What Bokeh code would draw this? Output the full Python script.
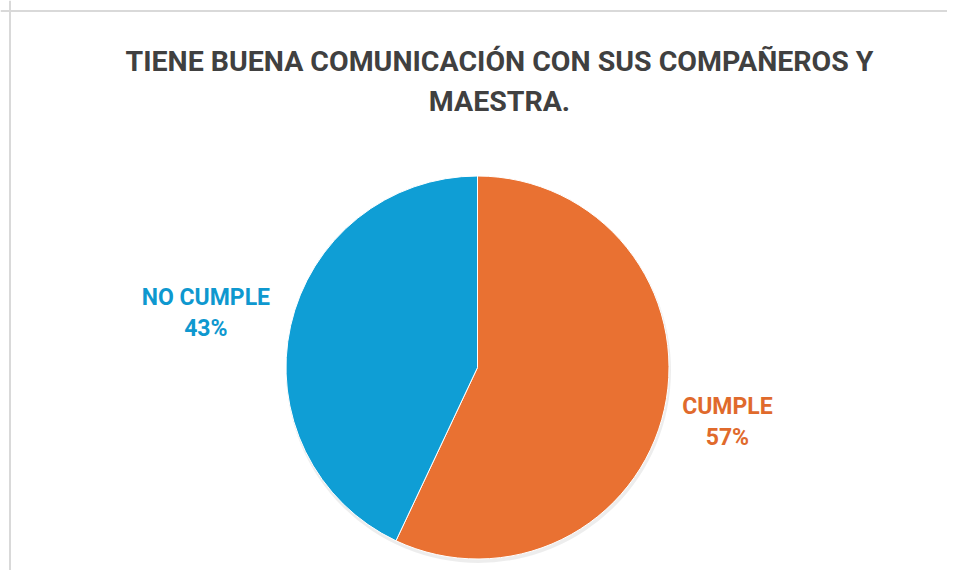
import math
from bokeh.plotting import figure
from bokeh.models import Range1d, Span, ColumnDataSource
from bokeh.core.properties import value
from bokeh.embed import file_html
from bokeh.resources import INLINE

# ---- data ----
title_text = "TIENE BUENA COMUNICACIÓN CON SUS COMPAÑEROS Y\nMAESTRA."
categories = ["CUMPLE", "NO CUMPLE"]
percents = [57, 43]
colors = ["#E97132", "#0F9ED5"]

W, H = 947, 570
p = figure(width=W, height=H, output_backend="svg", toolbar_location=None,
           x_range=Range1d(0, W), y_range=Range1d(0, H),
           min_border=0, outline_line_color=None)
p.axis.visible = False
p.grid.visible = False
p.background_fill_color = "white"
p.border_fill_color = "white"

# chart area border (left and top edges visible)
p.add_layout(Span(location=9.5, dimension="height", line_color="#d9d9d9", line_width=2))
p.add_layout(Span(location=H - 10.5, dimension="width", line_color="#d9d9d9", line_width=2))

cx, cy, r = 477, 203, 191.5
total = sum(percents)
starts, ends, mids = [], [], []
a = math.pi / 2
for v in percents:
    sweep = 2 * math.pi * v / total
    starts.append(a)
    ends.append(a - sweep)
    mids.append(a - sweep / 2)
    a -= sweep

# soft shadow
p.circle(x=[cx + 1], y=[cy - 3], radius=r + 1, fill_color="#000000", fill_alpha=0.07, line_color=None)

src = ColumnDataSource(dict(x=[cx] * len(percents), y=[cy] * len(percents),
                            start=starts, end=ends, color=colors))
p.wedge(x="x", y="y", radius=r, start_angle="start", end_angle="end", direction="clock",
        fill_color="color", line_color="white", line_width=1, source=src)

# data labels
font = "Roboto"
fs = 23
label_colors = ["#E06A2C", "#0E98CF"]
lx, ly, lt = [], [], []
for cat, v, m in zip(categories, percents, mids):
    ax = cx + (r + 20) * math.cos(m)
    ay = cy + (r + 20) * math.sin(m)
    side = 1 if math.cos(m) >= 0 else -1
    half = len(cat) * 14.5 / 2
    lx.append(ax + side * half)
    ly.append(ay - 8 * side)
    lt.append(f"{cat}\n{v}%")
p.text(x=lx, y=ly, text=lt, text_color=label_colors, text_font=value(font),
       text_font_size=f"{fs}px", text_font_style="bold", text_align="center",
       text_baseline="middle", text_line_height=1.15)

# title
p.text(x=[499], y=[H - 81], text=[title_text], text_color="#404040", text_font=value(font),
       text_font_size="28.5px", text_font_style="bold", text_align="center",
       text_baseline="middle", text_line_height=1.19)

open("out.html", "w").write(file_html(p, INLINE))
